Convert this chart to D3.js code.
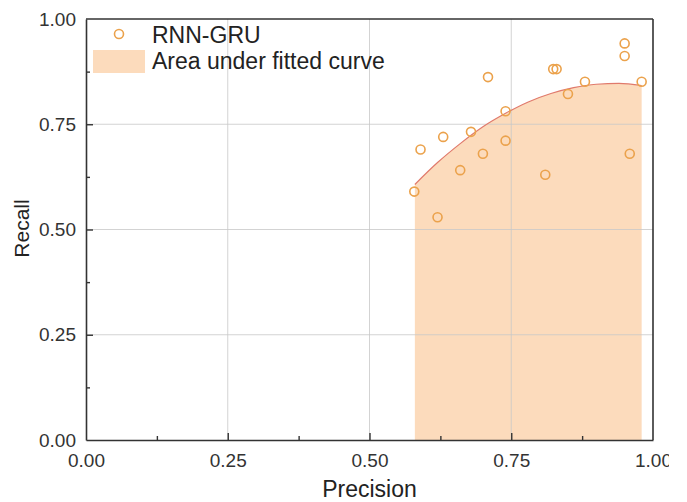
<!DOCTYPE html>
<html>
<head>
<meta charset="utf-8">
<script src="https://cdn.jsdelivr.net/npm/d3@7"></script>
<style>
  body { margin: 0; background: #fff; }
  text { font-family: "Liberation Sans", Arial, sans-serif; }
</style>
</head>
<body>
<div id="chart"></div>
<script>
// scatter points (precision, recall)
var precision = [0.579, 0.590, 0.620, 0.630, 0.660, 0.679, 0.700, 0.709, 0.740, 0.740,
                 0.810, 0.824, 0.830, 0.850, 0.880, 0.950, 0.950, 0.959, 0.980];
var recall    = [0.590, 0.690, 0.529, 0.720, 0.641, 0.732, 0.680, 0.862, 0.781, 0.711,
                 0.630, 0.881, 0.881, 0.822, 0.851, 0.942, 0.912, 0.680, 0.851];

// fitted curve
var fitX = [0.58, 0.62, 0.66, 0.70, 0.74, 0.78, 0.82, 0.86, 0.90, 0.94, 0.98];
var fitY = [0.607, 0.659, 0.704, 0.744, 0.776, 0.803, 0.823, 0.837, 0.845, 0.847, 0.842];

var majorTicks = [0, 0.25, 0.5, 0.75, 1];
var minorTicks = [0.125, 0.375, 0.625, 0.875];
var gridTicks = [0.25, 0.5, 0.75];
var legendNames = ["RNN-GRU", "Area under fitted curve"];

var W = 687, H = 502;
var margin = {top: 19, right: 34, bottom: 62, left: 86};
var width = W - margin.left - margin.right,
    height = H - margin.top - margin.bottom;

var svg = d3.select("#chart").append("svg").attr("width", W).attr("height", H);
var g = svg.append("g").attr("transform", "translate(" + margin.left + "," + margin.top + ")");

var x = d3.scaleLinear().domain([0, 1]).range([0, width]);
var y = d3.scaleLinear().domain([0, 1]).range([height, 0]);

var pts = precision.map(function(p, i) { return {x: p, y: recall[i]}; });
var fit = fitX.map(function(p, i) { return {x: p, y: fitY[i]}; });

// area under fitted curve
g.append("path")
    .datum(fit)
    .attr("fill", "#f9b87a")
    .attr("fill-opacity", 0.5)
    .attr("d", d3.area().curve(d3.curveMonotoneX)
        .x(function(d) { return x(d.x); })
        .y0(y(0))
        .y1(function(d) { return y(d.y); }));

// grid lines
g.selectAll(".gx").data(gridTicks).enter().append("line")
    .attr("x1", function(d) { return x(d); }).attr("x2", function(d) { return x(d); })
    .attr("y1", 0).attr("y2", height)
    .attr("stroke", "#c8c8c8").attr("stroke-opacity", 0.8).attr("stroke-width", 1);
g.selectAll(".gy").data(gridTicks).enter().append("line")
    .attr("y1", function(d) { return y(d); }).attr("y2", function(d) { return y(d); })
    .attr("x1", 0).attr("x2", width)
    .attr("stroke", "#c8c8c8").attr("stroke-opacity", 0.8).attr("stroke-width", 1);

// fitted line
g.append("path")
    .datum(fit)
    .attr("fill", "none")
    .attr("stroke", "#e07a6c")
    .attr("stroke-width", 1.2)
    .attr("d", d3.line().curve(d3.curveMonotoneX)
        .x(function(d) { return x(d.x); })
        .y(function(d) { return y(d.y); }));

// points
g.selectAll(".pt").data(pts).enter().append("circle")
    .attr("cx", function(d) { return x(d.x); })
    .attr("cy", function(d) { return y(d.y); })
    .attr("r", 4.5)
    .attr("fill", "none")
    .attr("stroke", "#eba24c")
    .attr("stroke-width", 1.6);

// axes
var axisColor = "#333";
var xAxis = g.append("g").attr("transform", "translate(0," + height + ")")
    .call(d3.axisBottom(x).tickValues(majorTicks).tickSizeInner(-7).tickSizeOuter(0).tickPadding(14)
        .tickFormat(d3.format(".2f")));
var yAxis = g.append("g")
    .call(d3.axisLeft(y).tickValues(majorTicks).tickSizeInner(-7).tickSizeOuter(0).tickPadding(10)
        .tickFormat(d3.format(".2f")));
[xAxis, yAxis].forEach(function(a) {
    a.select(".domain").attr("stroke", axisColor).attr("stroke-width", 1.6);
    a.selectAll(".tick line").attr("stroke", axisColor).attr("stroke-width", 1.4);
    a.selectAll(".tick text").attr("font-size", 19).attr("fill", "#333")
        .style("font-family", "'Liberation Sans', Arial, sans-serif");
});
// drop tick marks on the box corners
xAxis.selectAll(".tick").filter(function(d) { return d == 0 || d == 1; }).select("line").remove();
yAxis.selectAll(".tick").filter(function(d) { return d == 0 || d == 1; }).select("line").remove();

g.append("g").attr("transform", "translate(0," + height + ")")
    .call(d3.axisBottom(x).tickValues(minorTicks).tickSizeInner(-4).tickSizeOuter(0).tickFormat(""))
    .call(function(s) { s.select(".domain").remove(); s.selectAll("line").attr("stroke", axisColor).attr("stroke-width", 1.4); });
g.append("g")
    .call(d3.axisLeft(y).tickValues(minorTicks).tickSizeInner(-4).tickSizeOuter(0).tickFormat(""))
    .call(function(s) { s.select(".domain").remove(); s.selectAll("line").attr("stroke", axisColor).attr("stroke-width", 1.4); });

// box top and right
g.append("line").attr("x1", 0).attr("x2", width).attr("y1", 0).attr("y2", 0)
    .attr("stroke", axisColor).attr("stroke-width", 1.6);
g.append("line").attr("x1", width).attr("x2", width).attr("y1", 0).attr("y2", height)
    .attr("stroke", axisColor).attr("stroke-width", 1.6);

// the original is clipped on the right edge
svg.append("rect").attr("x", 669).attr("y", 447).attr("width", 20).attr("height", 30).attr("fill", "#fff");

// axis titles
svg.append("text")
    .attr("x", margin.left + width / 2).attr("y", 497)
    .attr("text-anchor", "middle").attr("font-size", 23).attr("fill", "#222")
    .text("Precision");
svg.append("text")
    .attr("transform", "translate(29," + 228.5 + ") rotate(-90)")
    .attr("text-anchor", "middle").attr("font-size", 21).attr("fill", "#222")
    .text("Recall");

// legend
var leg = svg.append("g");
leg.append("circle").attr("cx", 119).attr("cy", 34).attr("r", 4.5)
    .attr("fill", "none").attr("stroke", "#eba24c").attr("stroke-width", 1.6);
leg.append("text").attr("x", 152).attr("y", 43).attr("font-size", 23).attr("fill", "#222").text(legendNames[0]);
leg.append("rect").attr("x", 93).attr("y", 50).attr("width", 52).attr("height", 23)
    .attr("fill", "#f9b87a").attr("fill-opacity", 0.5);
leg.append("text").attr("x", 152).attr("y", 69).attr("font-size", 23).attr("fill", "#222").text(legendNames[1]);
</script>
</body>
</html>
